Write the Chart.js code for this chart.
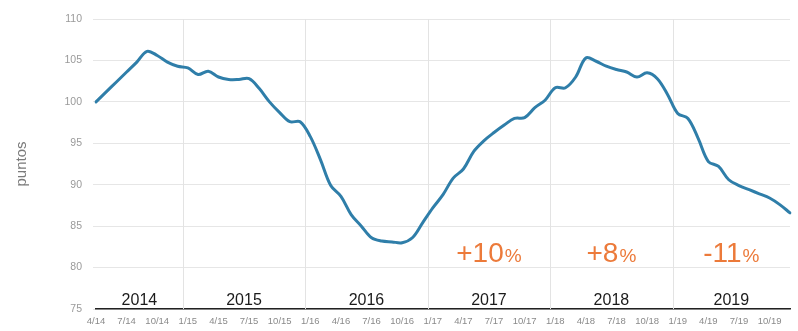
<!DOCTYPE html>
<html>
<head>
<meta charset="utf-8">
<script src="https://cdn.jsdelivr.net/npm/chart.js@4.4.1/dist/chart.umd.min.js"></script>
<style>
  html, body { margin: 0; padding: 0; background: #ffffff; }
  #wrap { width: 798px; height: 331px; }
</style>
</head>
<body>
<div id="wrap"><canvas id="chart" width="798" height="331"></canvas></div>
<script>
// Monthly categories, April 2014 to December 2019
const months = [
  '4/14','5/14','6/14','7/14','8/14','9/14','10/14','11/14','12/14',
  '1/15','2/15','3/15','4/15','5/15','6/15','7/15','8/15','9/15','10/15','11/15','12/15',
  '1/16','2/16','3/16','4/16','5/16','6/16','7/16','8/16','9/16','10/16','11/16','12/16',
  '1/17','2/17','3/17','4/17','5/17','6/17','7/17','8/17','9/17','10/17','11/17','12/17',
  '1/18','2/18','3/18','4/18','5/18','6/18','7/18','8/18','9/18','10/18','11/18','12/18',
  '1/19','2/19','3/19','4/19','5/19','6/19','7/19','8/19','9/19','10/19','11/19','12/19'
];

// Index level in points (April 2014 = 100)
const puntos = [
  100.0, 101.2, 102.4, 103.6, 104.8, 106.1, 105.6, 104.8, 104.3,
  104.1, 103.3, 103.7, 103.0, 102.7, 102.7, 102.8, 101.6, 100.0, 98.7, 97.6, 97.6,
  95.8, 93.0, 89.9, 88.6, 86.4, 85.0, 83.6, 83.2, 83.1, 83.0, 83.6, 85.4,
  87.2, 88.8, 90.8, 91.9, 94.0, 95.3, 96.3, 97.2, 98.0, 98.1, 99.3, 100.2,
  101.7, 101.7, 103.0, 105.3, 104.9, 104.3, 103.9, 103.6, 103.0, 103.5, 102.8, 100.9,
  98.6, 98.0, 95.6, 92.8, 92.2, 90.6, 89.9, 89.4, 88.9, 88.4, 87.6, 86.6
];

// Quarterly labels shown under the axis
const tickLabels = [
  '4/14','7/14','10/14','1/15','4/15','7/15','10/15','1/16','4/16','7/16','10/16',
  '1/17','4/17','7/17','10/17','1/18','4/18','7/18','10/18','1/19','4/19','7/19','10/19'
];

const yTicks = [75, 80, 85, 90, 95, 100, 105, 110];

// Year band row along the bottom of the plot
const years = ['2014', '2015', '2016', '2017', '2018', '2019'];
const yearStarts = ['1/15', '1/16', '1/17', '1/18', '1/19'];

// Annual change annotations
const changeYears = ['2017', '2018', '2019'];
const changeValues = ['+10', '+8', '-11'];

const FONT = '"Liberation Sans", Arial, Helvetica, sans-serif';
const ORANGE = '#ec7a3a';

const yearBands = {
  id: 'yearBands',
  beforeDatasetsDraw(chart) {
    const { ctx, chartArea: a, scales: { x } } = chart;
    const bounds = [a.left]
      .concat(yearStarts.map(m => x.getPixelForValue(months.indexOf(m) - 0.5)))
      .concat([a.right]);
    ctx.save();
    // separators between years
    ctx.strokeStyle = '#e3e3e3';
    ctx.lineWidth = 1;
    for (let i = 1; i < bounds.length - 1; i++) {
      const px = Math.round(bounds[i]) + 0.5;
      ctx.beginPath();
      ctx.moveTo(px, a.top);
      ctx.lineTo(px, a.bottom);
      ctx.stroke();
    }
    // year names
    ctx.fillStyle = '#1b1b1b';
    ctx.font = '16px ' + FONT;
    ctx.textAlign = 'center';
    ctx.textBaseline = 'alphabetic';
    years.forEach((yr, i) => {
      ctx.fillText(yr, (bounds[i] + bounds[i + 1]) / 2, a.bottom - 4);
    });
    // yearly change figures
    ctx.fillStyle = ORANGE;
    ctx.textAlign = 'left';
    changeYears.forEach((yr, k) => {
      const i = years.indexOf(yr);
      const cx = (bounds[i] + bounds[i + 1]) / 2;
      const big = '28px ' + FONT, small = '19px ' + FONT;
      ctx.font = big;
      const w1 = ctx.measureText(changeValues[k]).width;
      ctx.font = small;
      const w2 = ctx.measureText('%').width;
      const start = cx - (w1 + w2 + 1) / 2;
      const base = a.bottom - 47;
      ctx.font = big;
      ctx.fillText(changeValues[k], start, base);
      ctx.font = small;
      ctx.fillText('%', start + w1 + 1, base);
    });
    ctx.restore();
  }
};

new Chart(document.getElementById('chart'), {
  type: 'line',
  data: {
    labels: months,
    datasets: [{
      data: puntos,
      borderColor: '#2f7ea9',
      borderWidth: 3,
      borderCapStyle: 'round',
      borderJoinStyle: 'round',
      pointRadius: 0,
      tension: 0.35,
      fill: false
    }]
  },
  options: {
    responsive: false,
    animation: false,
    devicePixelRatio: 1,
    layout: { padding: { left: 0, right: 8, top: 19, bottom: 0 } },
    plugins: {
      legend: { display: false },
      tooltip: { enabled: false }
    },
    scales: {
      x: {
        type: 'category',
        offset: false,
        grid: { display: false, drawTicks: false },
        border: { display: true, color: '#222222', width: 1.5 },
        ticks: {
          autoSkip: false,
          maxRotation: 0,
          minRotation: 0,
          padding: 7,
          color: '#8a8a8a',
          font: { family: FONT, size: 9.5 },
          callback(value) {
            const lab = months[value];
            return tickLabels.includes(lab) ? lab : '';
          }
        },
        afterFit(scale) { scale.height = 22; }
      },
      y: {
        min: 75,
        max: 110,
        afterBuildTicks(scale) { scale.ticks = yTicks.map(v => ({ value: v })); },
        grid: { color: '#e6e6e6', lineWidth: 1, drawTicks: true, tickLength: 3 },
        border: { display: false },
        ticks: {
          padding: 11,
          color: '#9a9a9a',
          font: { family: FONT, size: 10.5 }
        },
        title: {
          display: true,
          text: 'puntos',
          color: '#7a7a7a',
          font: { family: FONT, size: 15 },
          padding: { top: 13, bottom: 0 }
        },
        afterFit(scale) { scale.width = 96; }
      }
    }
  },
  plugins: [yearBands]
});
</script>
</body>
</html>
